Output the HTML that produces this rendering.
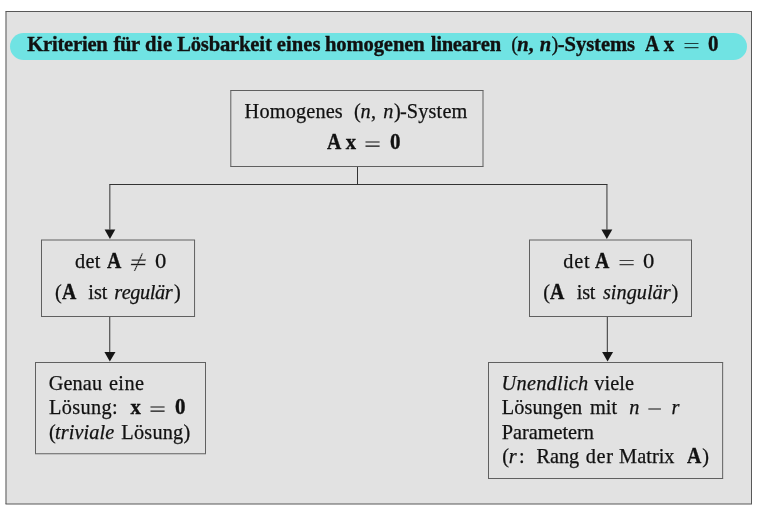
<!DOCTYPE html>
<html lang="de">
<head>
<meta charset="utf-8">
<title>Kriterien für die Lösbarkeit eines homogenen linearen (n, n)-Systems</title>
<style>
html,body{margin:0;padding:0;background:#fff;}
body{width:758px;height:512px;position:relative;overflow:hidden;font-family:"Liberation Serif","DejaVu Serif",serif;font-size:20.3px;color:#111;font-kerning:none;font-variant-ligatures:none;}
.txt{position:absolute;left:0;top:0;width:758px;height:512px;will-change:transform;}
.t{position:absolute;white-space:pre;line-height:1;-webkit-text-stroke:0.25px #111;}
.b{font-weight:bold;-webkit-text-stroke:0.35px #111;}
.i{font-style:italic;}
.bi{font-weight:bold;font-style:italic;-webkit-text-stroke:0.35px #111;}
.op{color:rgba(0,0,0,0.72);transform-origin:0 0;-webkit-text-stroke:0;}
.ne{font-family:"DejaVu Math TeX Gyre","DejaVu Serif",serif;font-size:21.0px;color:#1a1a1a;-webkit-text-stroke:0.3px #e2e2e2;transform-origin:0 0;transform:scaleX(1.095) skewX(-8deg);}
.lines{position:absolute;left:0;top:0;}
</style>
</head>
<body>
<svg class="lines" width="758" height="512" viewBox="0 0 758 512">
<rect x="5.5" y="11.5" width="746" height="492.5" fill="#e2e2e2"/>
<rect x="10" y="33" width="737" height="27" rx="13.5" ry="13.5" fill="#70e3e3"/>
<g fill="none" stroke-width="1">
<path d="M5.5 11.5 H752.0 M5.5 504.0 H752.0 M6.0 11.5 V504.0 M751.5 11.5 V504.0" stroke="#585858"/>
<path d="M230.3 90.5 H483.5 M230.3 166.5 H483.5 M230.8 90.5 V166.5 M483.0 90.5 V166.5" stroke="#606060"/>
<path d="M41.0 240.0 H195.05 M41.0 316.5 H195.05 M41.5 240.0 V316.5 M194.55 240.0 V316.5" stroke="#606060"/>
<path d="M529.0 240.0 H692.0 M529.0 316.5 H692.0 M529.5 240.0 V316.5 M691.5 240.0 V316.5" stroke="#606060"/>
<path d="M35.0 362.5 H206.0 M35.0 453.75 H206.0 M35.5 362.5 V453.75 M205.5 362.5 V453.75" stroke="#606060"/>
<path d="M488.0 362.5 H723.15 M488.0 478.5 H723.15 M488.5 362.5 V478.5 M722.65 362.5 V478.5" stroke="#606060"/>
</g>
<g fill="none" stroke="#333" stroke-width="1">
<path d="M357.5 167 V184.5"/>
<path d="M109.85 229.5 V184.5 M109.35 184.5 H607.45 M606.95 184.5 V229.5"/>
<path d="M109.75 317 V352.2"/>
<path d="M607.3 317 V352.2"/>
</g>
<g fill="#161616" stroke="none">
<path d="M104.6 229.4 H115.3 L109.95 238.9 Z"/>
<path d="M601.4 229.4 H612.3 L606.85 238.9 Z"/>
<path d="M104.4 352.1 H115.5 L109.85 361.5 Z"/>
<path d="M602.15 352.1 H613.1 L607.55 361.5 Z"/>
</g>
</svg>
<div class="txt">
<span class="t b" style="left:27.25px;top:34.00px;font-size:20.6px;letter-spacing:-0.224px;">Kriterien</span>
<span class="t b" style="left:113.55px;top:34.00px;font-size:20.6px;letter-spacing:-0.400px;">für</span>
<span class="t b" style="left:144.97px;top:34.00px;font-size:20.6px;letter-spacing:0.422px;">die</span>
<span class="t b" style="left:177.15px;top:34.00px;font-size:20.6px;letter-spacing:-0.166px;">Lösbarkeit</span>
<span class="t b" style="left:276.80px;top:34.00px;font-size:20.6px;letter-spacing:0.031px;">eines</span>
<span class="t b" style="left:324.99px;top:34.00px;font-size:20.6px;letter-spacing:-0.124px;">homogenen</span>
<span class="t b" style="left:430.70px;top:34.00px;font-size:20.6px;letter-spacing:-0.239px;">linearen</span>
<span class="t" style="left:511.35px;top:34.00px;">(</span>
<span class="t bi" style="left:517.36px;top:34.00px;font-size:20.6px;">n</span>
<span class="t b" style="left:528.53px;top:34.00px;font-size:20.6px;">,</span>
<span class="t bi" style="left:539.81px;top:34.00px;font-size:20.6px;">n</span>
<span class="t" style="left:551.49px;top:34.00px;">)</span>
<span class="t b" style="left:557.75px;top:34.00px;font-size:20.6px;letter-spacing:-0.065px;">-Systems</span>
<span class="t b" style="left:645.19px;top:34.00px;font-size:20.6px;transform-origin:0 17px;transform:scale(0.96,1.1);">A</span>
<span class="t b" style="left:663.87px;top:34.00px;font-size:20.6px;">x</span>
<span class="t op" style="left:682.60px;top:36px;font-size:21px;transform:scaleX(1.433)">=</span>
<span class="t b" style="left:708.05px;top:34.00px;font-size:20.6px;transform-origin:0 17px;transform:scale(1.02,1.08);">0</span>
<span class="t" style="left:244.62px;top:101.00px;letter-spacing:0.156px;">Homogenes</span>
<span class="t" style="left:354.10px;top:101.00px;">(</span>
<span class="t i" style="left:360.53px;top:101.00px;">n</span>
<span class="t" style="left:370.92px;top:101.00px;">,</span>
<span class="t i" style="left:383.33px;top:101.00px;">n</span>
<span class="t" style="left:393.99px;top:101.00px;">)</span>
<span class="t" style="left:399.95px;top:101.00px;letter-spacing:0.155px;">-System</span>
<span class="t b" style="left:327.44px;top:132.00px;font-size:20.6px;transform-origin:0 17px;transform:scale(0.96,1.1);">A</span>
<span class="t b" style="left:345.67px;top:132.00px;font-size:20.6px;">x</span>
<span class="t op" style="left:364.39px;top:134px;font-size:21px;color:#0c0c0c;transform:skewX(0.1deg) scaleX(1.443)">=</span>
<span class="t b" style="left:389.70px;top:132.00px;font-size:20.6px;transform-origin:0 17px;transform:scale(1.02,1.08);">0</span>
<span class="t" style="left:75.07px;top:251.00px;letter-spacing:0.276px;">det</span>
<span class="t b" style="left:106.74px;top:251.00px;font-size:20.6px;transform-origin:0 17px;transform:scale(0.96,1.1);">A</span>
<span class="t ne" style="left:130.70px;top:251.20px;">≠</span>
<span class="t" style="left:154.98px;top:251.00px;transform-origin:0 17px;transform:scale(1.117,1.063);">0</span>
<span class="t" style="left:55.11px;top:282.00px;">(</span>
<span class="t b" style="left:61.54px;top:282.00px;font-size:20.6px;transform-origin:0 17px;transform:scale(0.96,1.1);">A</span>
<span class="t" style="left:88.37px;top:282.00px;letter-spacing:-0.067px;">ist</span>
<span class="t i" style="left:114.18px;top:282.00px;letter-spacing:-0.389px;">regulär</span>
<span class="t" style="left:173.89px;top:282.00px;">)</span>
<span class="t" style="left:563.27px;top:251.00px;letter-spacing:0.776px;">det</span>
<span class="t b" style="left:594.74px;top:251.00px;font-size:20.6px;transform-origin:0 17px;transform:scale(0.96,1.1);">A</span>
<span class="t op" style="left:618.08px;top:253px;font-size:21px;transform:scaleX(1.453)">=</span>
<span class="t" style="left:642.83px;top:251.00px;transform-origin:0 17px;transform:scale(1.117,1.063);">0</span>
<span class="t" style="left:543.31px;top:282.00px;">(</span>
<span class="t b" style="left:550.24px;top:282.00px;font-size:20.6px;transform-origin:0 17px;transform:scale(0.96,1.1);">A</span>
<span class="t" style="left:576.87px;top:282.00px;letter-spacing:-0.267px;">ist</span>
<span class="t i" style="left:602.95px;top:282.00px;letter-spacing:0.015px;">singulär</span>
<span class="t" style="left:671.54px;top:282.00px;">)</span>
<span class="t" style="left:48.67px;top:373.00px;letter-spacing:0.125px;">Genau</span>
<span class="t" style="left:108.91px;top:373.00px;letter-spacing:0.462px;">eine</span>
<span class="t" style="left:48.92px;top:397.00px;letter-spacing:0.365px;">Lösung:</span>
<span class="t b" style="left:130.42px;top:397.00px;font-size:20.6px;">x</span>
<span class="t op" style="left:149.39px;top:399px;font-size:21px;color:#0c0c0c;transform:skewX(0.1deg) scaleX(1.443)">=</span>
<span class="t b" style="left:174.90px;top:397.00px;font-size:20.6px;transform-origin:0 17px;transform:scale(1.02,1.08);">0</span>
<span class="t" style="left:49.11px;top:422.00px;">(</span>
<span class="t i" style="left:54.91px;top:422.00px;letter-spacing:0.117px;">triviale</span>
<span class="t" style="left:121.32px;top:422.00px;letter-spacing:0.219px;">Lösung)</span>
<span class="t i" style="left:501.54px;top:373.00px;letter-spacing:0.281px;">Unendlich</span>
<span class="t" style="left:594.20px;top:373.00px;letter-spacing:0.088px;">viele</span>
<span class="t" style="left:501.82px;top:397.00px;letter-spacing:0.062px;">Lösungen</span>
<span class="t" style="left:589.97px;top:397.00px;letter-spacing:0.038px;">mit</span>
<span class="t i" style="left:629.33px;top:397.00px;">n</span>
<span class="t op" style="left:647.45px;top:399px;font-size:21px;color:#0c0c0c;transform:skewX(0.1deg) scaleX(1.289)">−</span>
<span class="t i" style="left:671.56px;top:397.00px;">r</span>
<span class="t" style="left:501.82px;top:422.00px;letter-spacing:-0.038px;">Parametern</span>
<span class="t" style="left:502.21px;top:446.00px;">(</span>
<span class="t i" style="left:508.66px;top:446.00px;">r</span>
<span class="t" style="left:519.10px;top:446.00px;">:</span>
<span class="t" style="left:536.42px;top:446.00px;letter-spacing:0.007px;">Rang</span>
<span class="t" style="left:585.77px;top:446.00px;letter-spacing:0.696px;">der</span>
<span class="t" style="left:619.12px;top:446.00px;letter-spacing:0.037px;">Matrix</span>
<span class="t b" style="left:686.74px;top:446.00px;font-size:20.6px;transform-origin:0 17px;transform:scale(0.96,1.1);">A</span>
<span class="t" style="left:702.24px;top:446.00px;">)</span>
</div>
</body>
</html>
